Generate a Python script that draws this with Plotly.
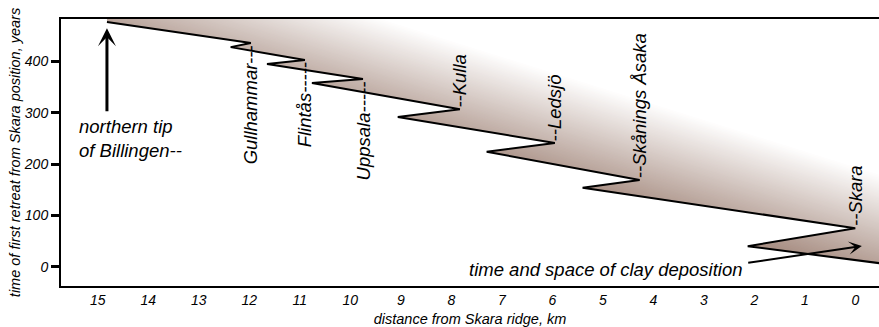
import numpy as np
import plotly.graph_objects as go

# ---------------- data ----------------
start_x, start_y = 14.82, 477          # northern tip of Billingen
end_x, end_y = -0.5, 6.6               # lower right end of the clay band

site_names = ["Gullhammar---", "Flintås-----", "Uppsala-----", "--Kulla",
              "--Ledsjö", "--Skånings Åsaka", "--Skara"]
site_x = [11.97, 10.90, 9.75, 7.83, 5.95, 4.27, 0.0]       # km
site_y = [436, 403, 366, 307, 241, 169, 75]                 # years
site_below = [True, True, True, False, False, False, False]

tip_x = [12.37, 11.65, 10.76, 9.06, 7.30, 5.40, 2.13]       # tooth tips
tip_y = [428, 395, 358, 292, 224, 154, 40]

x_ticks = list(range(0, 16))
y_ticks = [0, 100, 200, 300, 400]

arrow_tip = (14.82, 465)
arrow_tail = (14.82, 300)
clay_tail = (2.15, 7.2)
clay_tip = (-0.13, 40.4)

X_RANGE = [15.73, -0.47]
Y_RANGE = [-37.6, 482.8]

FONT = "Liberation Sans, Arial, sans-serif"

# ---------------- outline ----------------
line_x = [start_x]
line_y = [start_y]
for sx, sy, tx, ty in zip(site_x, site_y, tip_x, tip_y):
    line_x += [sx, tx]
    line_y += [sy, ty]
line_x.append(end_x)
line_y.append(end_y)

fig = go.Figure()

# ---------------- gradient bands (parallel to overall trend) ----------------
slope = (start_y - end_y) / (start_x - end_x)


def y_ref(x):
    return end_y + slope * (x - end_x)


XL, XR, YB, YT = 17.0, -2.0, -700.0, 700.0
d_dark, d_white = -30.0, 175.0
dark = np.array([170, 145, 134])
white = np.array([255, 255, 255])
offs = np.linspace(d_white, d_dark, 70)
for o in offs:
    t = (o - d_dark) / (d_white - d_dark)
    c = dark + (white - dark) * t
    col = "rgb(%d,%d,%d)" % tuple(np.round(c).astype(int))
    fig.add_trace(go.Scatter(
        x=[XL, XR, XR, XL], y=[y_ref(XL) + o, y_ref(XR) + o, YB, YB],
        fill="toself", fillcolor=col, mode="none", hoverinfo="skip",
        showlegend=False))

# white mask below/left of the outline
mask_x = [XL, start_x] + line_x + [end_x, XL]
mask_y = [YT, YT] + line_y + [YB, YB]
fig.add_trace(go.Scatter(x=mask_x, y=mask_y, fill="toself", fillcolor="white",
                         mode="none", hoverinfo="skip", showlegend=False))

# outline
fig.add_trace(go.Scatter(x=line_x, y=line_y, mode="lines",
                         line=dict(color="black", width=2),
                         hoverinfo="skip", showlegend=False))

# ---------------- annotations ----------------
ann = []
for name, sx, sy, below in zip(site_names, site_x, site_y, site_below):
    ann.append(dict(x=sx, y=sy, xref="x", yref="y", text=name, textangle=-90,
                    showarrow=False, xanchor="center",
                    yanchor="top" if below else "bottom",
                    font=dict(family=FONT, size=18.5, color="black", style="italic")))

ann.append(dict(x=15.42, y=249, xref="x", yref="y",
                text="northern tip<br>of Billingen--", showarrow=False,
                xanchor="left", yanchor="middle", align="left",
                font=dict(family=FONT, size=18.5, color="black", style="italic")))
ann.append(dict(x=2.19, y=-4.5, xref="x", yref="y",
                text="time and space of clay deposition", showarrow=False,
                xanchor="right", yanchor="middle",
                font=dict(family=FONT, size=18.5, color="black", style="italic")))

ann.append(dict(x=arrow_tip[0], y=arrow_tip[1], ax=arrow_tail[0], ay=arrow_tail[1],
                xref="x", yref="y", axref="x", ayref="y", text="",
                showarrow=True, arrowhead=3, arrowwidth=3, arrowsize=1.0,
                arrowcolor="black"))
ann.append(dict(x=clay_tip[0], y=clay_tip[1], ax=clay_tail[0], ay=clay_tail[1],
                xref="x", yref="y", axref="x", ayref="y", text="",
                showarrow=True, arrowhead=3, arrowwidth=2, arrowsize=1.1,
                arrowcolor="black"))

fig.update_layout(
    width=879, height=327,
    margin=dict(l=61, r=0, t=19, b=41),
    paper_bgcolor="white", plot_bgcolor="white",
    showlegend=False, hovermode=False,
    annotations=ann,
    xaxis=dict(range=X_RANGE, tickmode="array", tickvals=x_ticks,
               ticktext=[str(v) for v in x_ticks],
               showgrid=False, zeroline=False, showline=True, linecolor="black",
               linewidth=2, mirror=True, ticks="", automargin=False,
               tickfont=dict(family=FONT, size=14, color="black", style="italic"),
               title=dict(text="distance from Skara ridge, km", standoff=8,
                          font=dict(family=FONT, size=14.5, color="black", style="italic"))),
    yaxis=dict(range=Y_RANGE, tickmode="array", tickvals=y_ticks,
               ticktext=[str(v) for v in y_ticks],
               showgrid=False, zeroline=False, showline=True, linecolor="black",
               linewidth=2, ticks="outside", ticklen=8, tickwidth=3,
               tickcolor="black", automargin=False,
               tickfont=dict(family=FONT, size=14, color="black", style="italic"),
               title=dict(text="time of first retreat from Skara position, years", standoff=0,
                          font=dict(family=FONT, size=14.5, color="black", style="italic"))),
)

fig.write_html("out.html", config={"displayModeBar": False},
               post_script="document.body.style.margin='0';document.body.style.overflow='hidden';")
